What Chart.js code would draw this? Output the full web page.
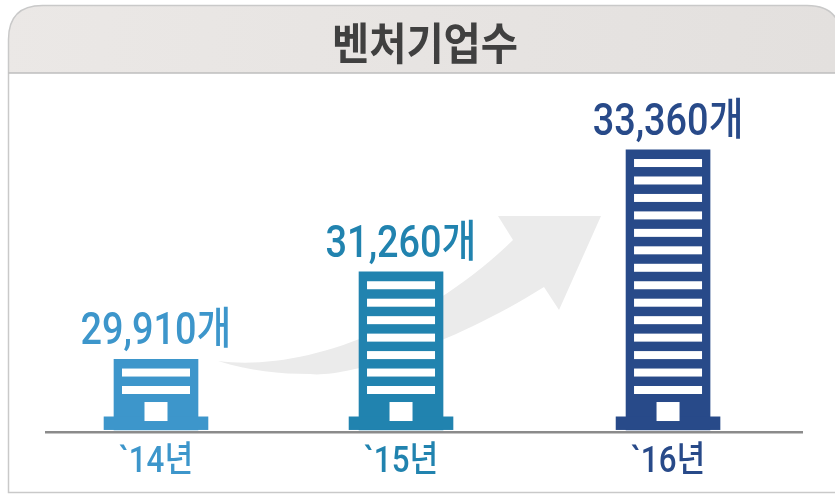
<!DOCTYPE html>
<html lang="ko">
<head>
<meta charset="utf-8">
<title>벤처기업수</title>
<style>html,body{margin:0;padding:0;background:#fff}canvas{display:block}</style>
<script src="https://cdn.jsdelivr.net/npm/chart.js@4"></script>
</head>
<body>
<canvas id="c" width="835" height="494"></canvas>
<script>
const chartTitle = '벤처기업수';
const yearLabels = ['`14년', '`15년', '`16년'];
const ventureCounts = [29910, 31260, 33360];
const storeys = [2, 7, 14];           // window rows on each pictogram
const unitLabel = '개';
const barColors = ['#3d96cb', '#2183af', '#284a89'];

// The reference's buildings are pictograms: height follows storeys, not a linear value axis.
const groundValue = 28000, groundStorey = -2.05;
const storeyPx = 17.46, storeyLift = 2.167;
function valueToStorey(v) {
  const xs = [groundValue, ...ventureCounts], ys = [groundStorey, ...storeys];
  let i = 0;
  while (i < xs.length - 2 && v > xs[i + 1]) i++;
  return ys[i] + (v - xs[i]) * (ys[i + 1] - ys[i]) / (xs[i + 1] - xs[i]);
}
class StoreyScale extends Chart.LinearScale {
  static id = 'storey';
  static defaults = {};
  storeyToPixel(s) { return this.bottom - (s + storeyLift) * storeyPx; }
  getPixelForValue(v) { return this.storeyToPixel(valueToStorey(v)); }
}
const slotFractions = [0.1455, 0.4696, 0.8228];
class SlotScale extends Chart.CategoryScale {
  static id = 'slots';
  static defaults = {};
  getPixelForValue(v) {
    const i = typeof v === 'number' ? v : this.parse(v);
    return this.left + slotFractions[i] * this.width;
  }
  // condensed tick labels, as the reference's type is narrower than any installed face
  drawLabels() {
    const c = this.ctx;
    this.ticks.forEach((t, i) => {
      c.save();
      c.translate(this.getPixelForTick(i), this.top + 40);
      c.scale(0.87, 1);
      c.fillStyle = barColors[i];
      c.font = '500 36px Roboto, "Noto Sans CJK KR"';
      c.textAlign = 'center';
      c.textBaseline = 'alphabetic';
      c.fillText(t.label, 0, 0);
      c.restore();
    });
  }
}
Chart.register(StoreyScale, SlotScale);

const panel = {
  id: 'panel',
  beforeDraw(chart) {
    const c = chart.ctx, W = chart.width, H = chart.height;
    c.save();
    const L = 8.5, T = 5.5, R = W + 6, B = H - 1.5, r = 34, hb = 73;
    const shape = (bottom) => { c.beginPath(); c.moveTo(L, bottom); c.lineTo(L, T + r); c.quadraticCurveTo(L, T, L + r, T); c.lineTo(R - r, T); c.quadraticCurveTo(R, T, R, T + r); c.lineTo(R, bottom); };
    shape(hb); c.closePath();
    const g = c.createLinearGradient(0, 0, W, hb);
    g.addColorStop(0, '#ebe8e6'); g.addColorStop(1, '#e3e0de');
    c.fillStyle = g; c.fill();
    shape(B); c.closePath();
    c.strokeStyle = '#c9c9c9'; c.lineWidth = 1.5; c.stroke();
    c.beginPath(); c.moveTo(L, hb); c.lineTo(W, hb);
    c.strokeStyle = '#bebebe'; c.stroke();
    c.fillStyle = '#404040';
    c.font = '700 44px "Noto Sans CJK KR"';
    c.textAlign = 'center';
    c.textBaseline = 'alphabetic';
    c.translate(425, 60);
    c.scale(0.92, 1);
    c.fillText(chartTitle, 0, 0);
    c.restore();
  },
  beforeDatasetsDraw(chart) {
    const c = chart.ctx;
    c.save();
    c.fillStyle = '#ebebeb';
    c.beginPath();
    c.moveTo(218, 361);
    c.bezierCurveTo(300, 372, 420, 330, 513, 240);
    c.lineTo(498, 216); c.lineTo(601, 216); c.lineTo(559, 310); c.lineTo(544, 287);
    c.bezierCurveTo(440, 352, 340, 378, 310, 374);
    c.bezierCurveTo(280, 374, 250, 371, 218, 361);
    c.closePath(); c.fill();
    c.restore();
  },
  afterDatasetsDraw(chart) {
    const c = chart.ctx, y = chart.scales.y;
    const meta = chart.getDatasetMeta(0);
    c.save();
    meta.data.forEach((bar, i) => {
      const cx = bar.x;
      c.fillStyle = barColors[i];
      c.fillRect(cx - 52.3, y.storeyToPixel(-1.28), 104.6, bar.base - y.storeyToPixel(-1.28));
      c.fillStyle = '#fff';
      for (let k = 1; k <= storeys[i]; k++) {
        c.fillRect(cx - 34, y.storeyToPixel(k) + 9.3, 68, 8);
      }
      c.fillRect(cx - 11.5, y.storeyToPixel(-0.45), 23, 19);
      c.fillStyle = barColors[i];
      c.font = '500 44px Roboto, "Noto Sans CJK KR"';
      c.textAlign = 'center';
      c.textBaseline = 'alphabetic';
      c.save();
      c.translate(cx, bar.y - 15);
      c.scale(0.86, 1);
      c.fillText(ventureCounts[i].toLocaleString('en-US') + unitLabel, 0, 0);
      c.restore();
    });
    c.restore();
  }
};

new Chart(document.getElementById('c'), {
  type: 'bar',
  data: {
    labels: yearLabels,
    datasets: [{
      label: chartTitle,
      data: ventureCounts,
      backgroundColor: barColors,
      barThickness: 84,
      base: groundValue
    }]
  },
  options: {
    responsive: false,
    animation: false,
    events: [],
    layout: { padding: { left: 46, right: 33, top: 70, bottom: 0 } },
    plugins: {
      legend: { display: false },
      tooltip: { enabled: false },
      title: { display: false }
    },
    scales: {
      x: {
        type: 'slots',
        position: 'bottom',
        afterFit(s) { s.height = 62; },
        grid: { display: false },
        border: { display: true, color: '#8b8b8b', width: 2.5 },
        ticks: { autoSkip: false, maxRotation: 0 }
      },
      y: {
        type: 'storey',
        display: false,
        min: groundValue,
        max: 36000
      }
    }
  },
  plugins: [panel]
});
</script>
</body>
</html>
